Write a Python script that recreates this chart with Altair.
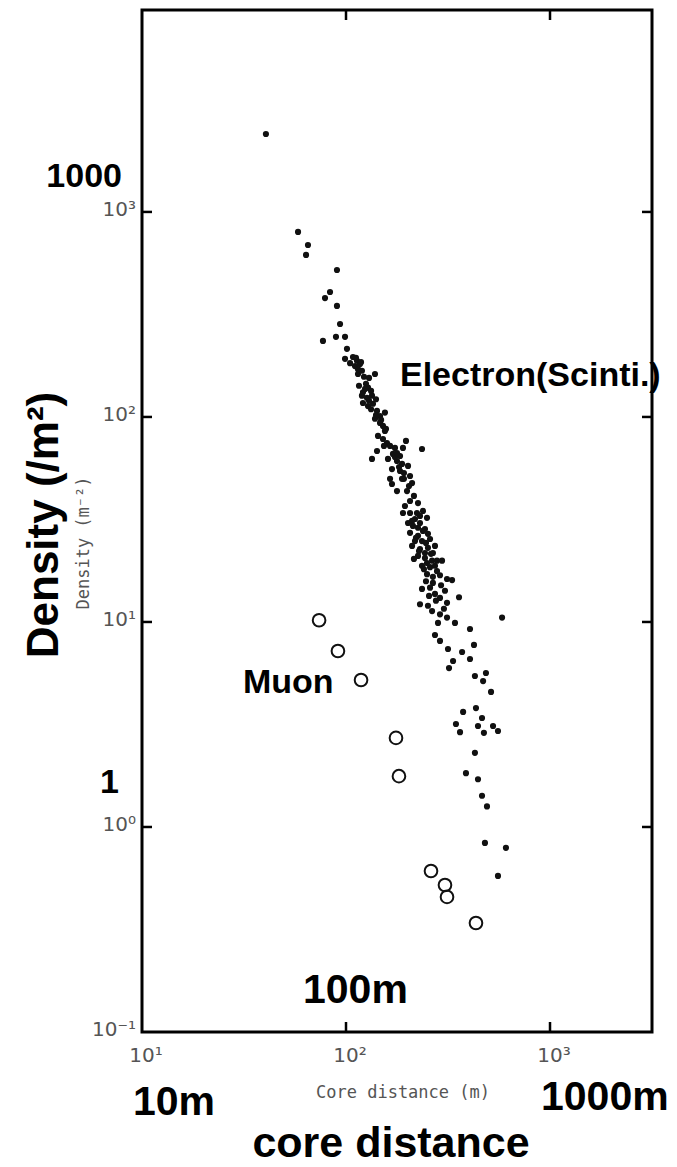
import altair as alt
import pandas as pd

# ---- data (log-log scatter) ----
electron_x = [40.5, 58.2, 65.1, 63.7, 90.3, 83.5, 78.9, 90.3, 93.5, 77.1,
              89.3, 98.9, 101.1, 98.9, 108.2, 113.2, 117.1, 110.7, 114.5, 122.5,
              129.7, 138.7, 115.8, 128.2, 119.7, 126.7, 134.1, 121.1, 128.2, 135.6,
              141.9, 155.2, 138.7, 146.8, 151.8, 143.5, 151.8, 158.8, 196.8, 190.2,
              235.8, 141.9, 134.1, 169.9, 177.8, 188.2, 201.4, 160.6, 168.0, 184.0,
              206.0, 168.0, 177.8, 199.1, 206.0, 225.4, 190.2, 222.8, 249.5, 201.4,
              212.9, 230.5, 243.8, 206.0, 225.4, 252.2, 217.8, 235.8, 258.2, 210.8,
              230.5, 252.2, 266.7, 225.4, 243.8, 264.2, 235.8, 258.2, 279.3, 295.6,
              249.5, 266.7, 288.9, 312.7, 331.1, 235.8, 258.2, 273.0, 288.9, 305.6,
              230.5, 252.2, 312.7, 358.1, 288.9, 312.7, 342.1, 282.5, 582, 405.3,
              273.0, 288.9, 316.2, 370.7, 424, 405.3, 334.8, 319.9, 428.5, 485.3,
              469.9, 514, 375, 433.6, 345.9, 362.2, 443.6, 464.2, 474.3, 525.7,
              555.9, 428.5, 387.3, 443.6, 464.2, 491, 479.8, 608.1, 555.9,
              104.7, 119.7, 125.3, 132.7, 140.3, 146.8, 155.2, 164.4, 173.8, 192.3,
              210.8, 215.3, 238.4, 217.8, 273.0, 243.8, 279.3, 255.3, 184.0, 164.4, 194.5,
              111.9, 118.5, 121.1, 129.7, 140.3, 148.6, 157.0, 173.8, 182.0, 192.3,
              203.6, 210.8, 225.4, 238.4, 220.3, 246.6, 228.0, 261.0, 215.3, 249.5,
              273.0, 241.0, 266.7, 292.4, 246.6, 276.0, 302.0, 264.2, 188.2, 177.8,
              153.5, 132.7, 124.0, 114.5, 206.0, 230.5]
electron_y = [2399, 799, 690, 617, 521, 407, 380, 348, 284, 235,
              246, 246, 215, 192, 196, 188, 181, 177, 162, 157,
              155, 162, 142, 139, 127, 124, 127, 117, 113, 116,
              107, 105, 98, 93.5, 90.4, 80.8, 78.1, 74.6, 76.4, 70.6,
              69.8, 68.2, 62.4, 66.0, 61.0, 59.0, 57.7, 62.4, 55.7, 54.5,
              51.5, 47.1, 43.5, 43.5, 38.9, 38.0, 34.0, 34.0, 32.2, 30.4,
              29.4, 30.4, 28.4, 27.2, 26.3, 26.9, 24.8, 24.8, 25.4, 23.5,
              22.7, 23.0, 21.7, 21.0, 20.5, 19.9, 18.8, 18.5, 19.9, 19.9,
              17.1, 15.5, 16.9, 16.2, 16.0, 14.5, 14.7, 13.7, 13.1, 14.2,
              12.2, 12.0, 12.4, 13.2, 10.9, 10.5, 9.89, 9.89, 10.5, 9.24,
              8.64, 8.08, 7.38, 7.14, 7.73, 6.60, 6.45, 5.96, 5.45, 5.64,
              5.15, 4.56, 3.64, 3.80, 3.18, 2.90, 3.11, 3.40, 2.88, 3.11,
              2.94, 2.30, 1.83, 1.71, 1.42, 1.26, 0.836, 0.791, 0.577,
              183, 168, 145, 134, 122, 101, 85.5, 72.2, 70.6, 49.9,
              47.6, 41.2, 34.8, 31.8, 23.5, 21.7, 17.7, 13.4, 64.5, 49.9, 36.8,
              194, 185, 132, 120, 102, 96.7, 87.4, 63.8, 57.0, 53.3,
              46.0, 31.1, 28.8, 27.8, 25.7, 24.3, 22.2, 21.5, 20.3, 19.4,
              18.8, 18.1, 16.6, 15.1, 15.8, 12.7, 11.6, 11.3, 49.9, 66.7,
              72.2, 109, 137, 171, 34.0, 32.9]
muon_x = [73.8, 91.3, 118.5, 175.8, 181.8, 261, 305.6, 312.7, 433.6]
muon_y = [10.2, 7.22, 5.21, 2.72, 1.77, 0.61, 0.521, 0.456, 0.34]

x_tick_values = [10, 100, 1000]
x_tick_labels = ["10¹", "10²", "10³"]
y_tick_values = [0.1, 1, 10, 100, 1000]
y_tick_labels = ["10⁻¹", "10⁰", "10¹", "10²", "10³"]
x_inner_ticks = [100, 1000]
y_inner_ticks = [1, 10, 100, 1000]
x_domain = [10, 3162]
y_domain = [0.1, 9660]

W, H = 510, 1022
xscale = alt.Scale(type="log", domain=x_domain, nice=False)
yscale = alt.Scale(type="log", domain=y_domain, nice=False)

edf = pd.DataFrame({"x": electron_x, "y": electron_y})
mdf = pd.DataFrame({"x": muon_x, "y": muon_y})

electrons = alt.Chart(edf).mark_circle(size=38, color="#111111", opacity=1).encode(
    x=alt.X("x:Q", scale=xscale, axis=None),
    y=alt.Y("y:Q", scale=yscale, axis=None),
)
muons = alt.Chart(mdf).mark_point(shape="circle", filled=False, size=160,
                                  strokeWidth=2, color="#111111", opacity=1).encode(
    x=alt.X("x:Q", scale=xscale, axis=None),
    y=alt.Y("y:Q", scale=yscale, axis=None),
)

# inward ticks on all four sides
xt = pd.DataFrame({"v": x_inner_ticks})
yt = pd.DataFrame({"v": y_inner_ticks})
TL = 10
rule_kw = dict(color="black", strokeWidth=2.5)
ticks_bottom = alt.Chart(xt).mark_rule(**rule_kw).encode(
    x=alt.X("v:Q", scale=xscale, axis=None), y=alt.value(H), y2=alt.value(H - TL))
ticks_top = alt.Chart(xt).mark_rule(**rule_kw).encode(
    x=alt.X("v:Q", scale=xscale, axis=None), y=alt.value(0), y2=alt.value(TL))
ticks_left = alt.Chart(yt).mark_rule(**rule_kw).encode(
    y=alt.Y("v:Q", scale=yscale, axis=None), x=alt.value(0), x2=alt.value(TL))
ticks_right = alt.Chart(yt).mark_rule(**rule_kw).encode(
    y=alt.Y("v:Q", scale=yscale, axis=None), x=alt.value(W), x2=alt.value(W - TL))

# tick labels (small grey, as in the scanned figure)
lab_kw = dict(font="DejaVu Sans", fontSize=20, color="#555555")
x_labels = alt.Chart(pd.DataFrame({"v": x_tick_values, "t": x_tick_labels})).mark_text(
    align="center", baseline="top", dx=4, **lab_kw).encode(
    x=alt.X("v:Q", scale=xscale, axis=None), y=alt.value(H + 14), text="t:N")
y_labels = alt.Chart(pd.DataFrame({"v": y_tick_values, "t": y_tick_labels})).mark_text(
    align="right", baseline="middle", dy=-2, **lab_kw).encode(
    y=alt.Y("v:Q", scale=yscale, axis=None), x=alt.value(-6), text="t:N")


def txt(s, x, y, size, font="Liberation Sans", weight="bold", color="black",
        align="left", angle=0, baseline="alphabetic"):
    return alt.Chart(pd.DataFrame({"t": [s]})).mark_text(
        font=font, fontWeight=weight, fontSize=size, color=color, align=align,
        angle=angle, baseline=baseline).encode(
        x=alt.value(x), y=alt.value(y), text="t:N")


texts = [
    txt("1000", -20, 177, 34, align="right"),
    txt("1", -23, 783, 34, align="right"),
    txt("Electron(Scinti.)", 258, 376, 34),
    txt("Muon", 101, 683, 34),
    txt("100m", 161, 993, 41),
    txt("10m", -9, 1105, 41),
    txt("1000m", 399, 1100, 41),
    txt("core distance", 249, 1147, 43, align="center"),
    txt("Density (/m²)", -97, 515, 44, align="center", angle=270, baseline="middle"),
    txt("Core distance (m)", 261, 1083, 17, font="DejaVu Sans Mono", weight="normal",
        color="#555555", align="center", baseline="middle"),
    txt("Density (m⁻²)", -58, 533, 17, font="DejaVu Sans Mono", weight="normal",
        color="#555555", align="center", angle=270, baseline="middle"),
]

chart = alt.layer(electrons, muons, ticks_bottom, ticks_top, ticks_left, ticks_right,
                  x_labels, y_labels, *texts).properties(
    width=W, height=H, autosize=alt.AutoSizeParams(type="none"),
    padding={"left": 142, "top": 10, "right": 25, "bottom": 135},
    background="white",
).configure_view(stroke="black", strokeWidth=3)

chart.save("out.html", embed_options={"renderer": "svg", "actions": False})
